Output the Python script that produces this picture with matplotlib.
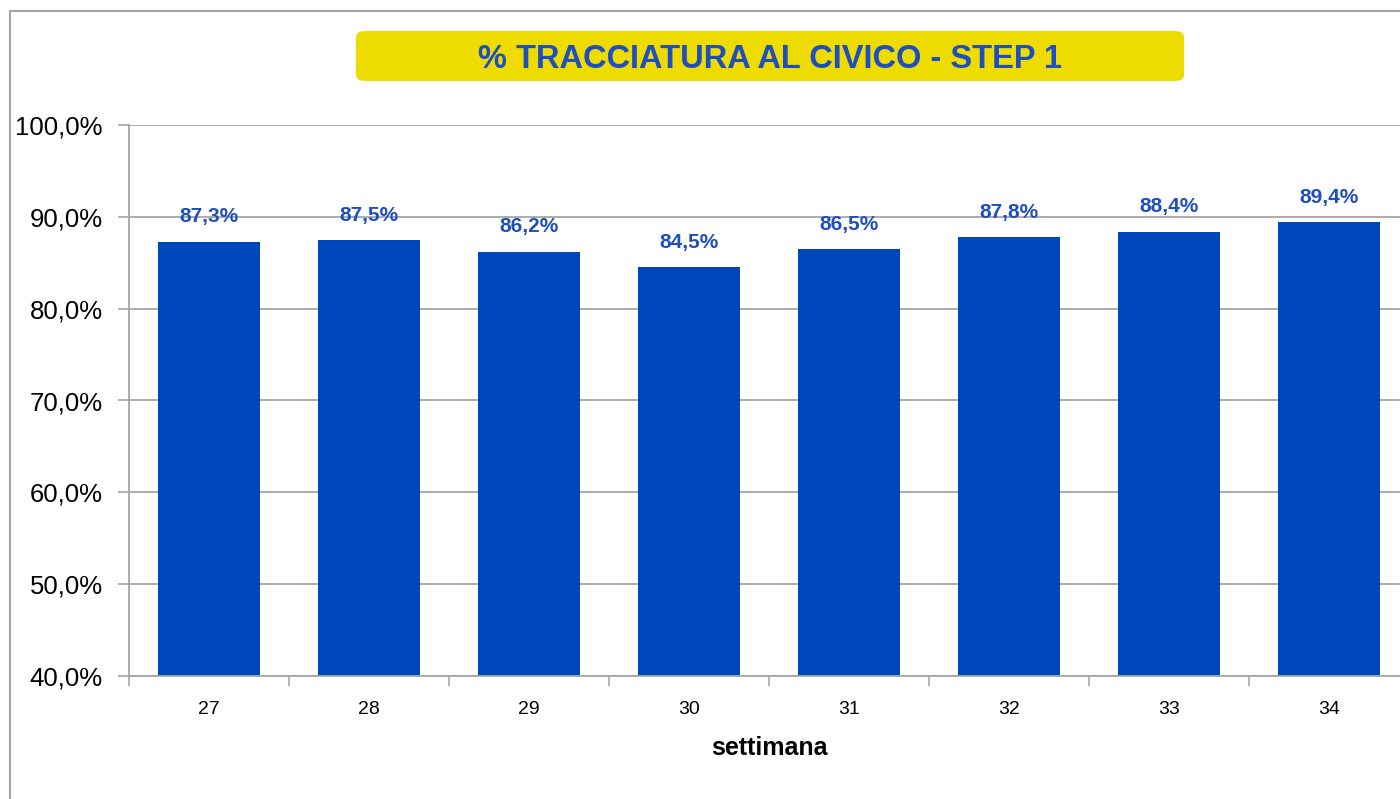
import matplotlib
matplotlib.use("Agg")
import matplotlib.pyplot as plt
from matplotlib.patches import Rectangle, FancyBboxPatch
from matplotlib.ticker import FuncFormatter, MultipleLocator

weeks = ["27", "28", "29", "30", "31", "32", "33", "34"]
values = [87.3, 87.5, 86.2, 84.5, 86.5, 87.8, 88.4, 89.4]
title = "% TRACCIATURA AL CIVICO - STEP 1"
xlabel = "settimana"

plt.rcParams['font.family'] = ['Liberation Sans', 'DejaVu Sans']

W, H = 1400, 799
fig = plt.figure(figsize=(W / 100, H / 100), dpi=100)

# outer chart border
fig.patches.append(Rectangle((10 / W, -0.1), 1.2, 1 - 11 / H + 0.1, transform=fig.transFigure,
                             fill=False, edgecolor="#a6a6a6", linewidth=1.5, clip_on=False))

ax = fig.add_axes([129 / W, 1 - 676 / H, 1280 / W, 551 / H])
x = range(len(weeks))
bar_color = "#0047BB"
ax.bar(x, values, width=0.635, color=bar_color, zorder=3)
ax.set_ylim(40, 100)
ax.set_xlim(-0.5, len(weeks) - 0.5)
ax.yaxis.set_major_locator(MultipleLocator(10))
ax.yaxis.set_major_formatter(FuncFormatter(lambda v, p: f"{v:.1f}%".replace(".", ",")))
ax.set_xticks(list(x))
ax.set_xticklabels(weeks, fontsize=14)
ax.set_xticks([i - 0.5 for i in range(len(weeks) + 1)], minor=True)
ax.tick_params(axis='x', which='major', length=0, pad=18)
ax.tick_params(axis='x', which='minor', length=7, color="#a6a6a6", width=1.2)
ax.tick_params(axis='y', length=8, color="#a6a6a6", width=1.2, labelsize=18.5, pad=11)
ax.grid(axis='y', color="#a6a6a6", linewidth=1.3, zorder=0)
for s in ["top", "right"]:
    ax.spines[s].set_visible(False)
for s in ["left", "bottom"]:
    ax.spines[s].set_color("#a6a6a6")
    ax.spines[s].set_linewidth(1.3)
ax.spines["bottom"].set_zorder(4)

for i, v in enumerate(values):
    ax.annotate(f"{v:.1f}%".replace(".", ","), (i, v), xytext=(0, 11), textcoords="offset points",
                ha="center", va="bottom", fontsize=15, fontweight="bold", color="#1F4FBF")

ax.set_xlabel(xlabel, fontsize=18, fontweight="bold", labelpad=13)

# title box
fig.patches.append(FancyBboxPatch((356 / W, 1 - 81 / H), (1184 - 356) / W, 50 / H,
                                  boxstyle="round,pad=0,rounding_size=0.007",
                                  transform=fig.transFigure, facecolor="#EEDC00", edgecolor="none"))
fig.text((356 + 1184) / 2 / W, 1 - 59 / H, title, ha="center", va="center",
         fontsize=23.5, fontweight="bold", color="#1F4FBF")

fig.savefig("out.png", dpi=100)
